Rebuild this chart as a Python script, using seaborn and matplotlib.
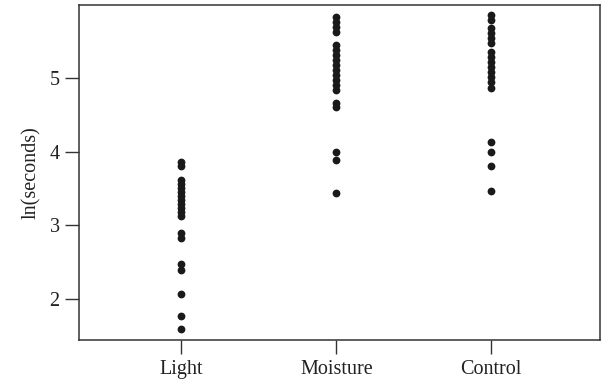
import matplotlib
matplotlib.use("Agg")
import matplotlib.pyplot as plt
import seaborn as sns
import pandas as pd

categories = ["Light", "Moisture", "Control"]

light = [3.86, 3.81, 3.62, 3.56, 3.51, 3.45, 3.40, 3.34, 3.29, 3.24, 3.18, 3.13,
         2.90, 2.83, 2.48, 2.39, 2.07, 1.77, 1.59]
moisture = [5.83, 5.76, 5.69, 5.62, 5.45, 5.38, 5.31, 5.24, 5.18, 5.11, 5.04,
            4.97, 4.90, 4.84, 4.66, 4.61, 4.00, 3.89, 3.44]
control = [5.86, 5.79, 5.68, 5.61, 5.54, 5.48, 5.35, 5.29, 5.22, 5.15, 5.08,
           5.01, 4.95, 4.86, 4.13, 4.00, 3.81, 3.47]

y_ticks = [2, 3, 4, 5]

rows = []
for cat, vals in zip(categories, [light, moisture, control]):
    for v in vals:
        rows.append({"group": cat, "value": v})
df = pd.DataFrame(rows)

sns.set_style("ticks")
plt.rcParams["font.family"] = ["Liberation Serif", "DejaVu Serif"]

fig = plt.figure(figsize=(6.04, 3.86), dpi=100)
ax = fig.add_axes([0.131, 0.119, 0.862, 0.868])

sns.stripplot(data=df, x="group", y="value", order=categories, jitter=False,
              color="#1a1a1a", size=5.6, linewidth=0, ax=ax)

ax.set_xlim(-0.66, 2.70)
ax.set_ylim(1.444, 5.99)
ax.set_yticks(y_ticks)
ax.set_yticklabels([str(t) for t in y_ticks])
ax.set_xlabel("")
ax.set_ylabel("ln(seconds)", fontsize=14.5, color="#222222", labelpad=6)
for s in ax.spines.values():
    s.set_visible(True)
    s.set_color("#333333")
    s.set_linewidth(1.1)
ax.tick_params(axis="both", direction="out", length=10, width=1.0,
               color="#333333", labelsize=14.5, labelcolor="#222222", pad=4)

fig.savefig("out.png", dpi=100)
